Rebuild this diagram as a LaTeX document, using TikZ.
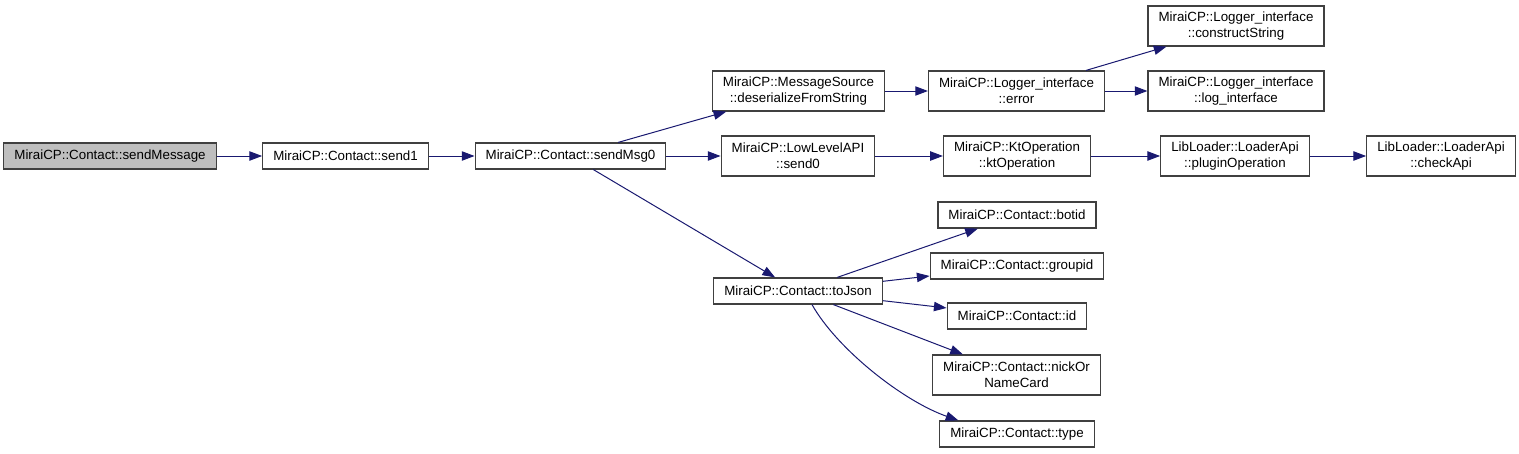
\documentclass[tikz,border=0pt]{standalone}
\usepackage{fontspec}
\setmainfont{Liberation Sans}
\usepackage{xcolor}
\usepackage{tikz}
\usetikzlibrary{arrows.meta}
\definecolor{midnight}{HTML}{191970}
\definecolor{boxGrey}{HTML}{404040}
\definecolor{curGrey}{HTML}{BFBFBF}

\begin{document}
\begin{tikzpicture}[
  x=0.75pt,y=-0.75pt,
  fn/.style={draw=boxGrey,line width=0.9pt,fill=white,align=center,
    font=\fontsize{10pt}{12pt}\selectfont,inner xsep=7.9pt,inner ysep=2pt,
    minimum height=19.5pt},
  fntwo/.style={fn,minimum height=30pt},
  arr/.style={-{Triangle[length=9.5pt,width=7pt]},line width=0.75pt,draw=midnight}
]
\useasboundingbox (0,0) rectangle (1519,453);
\node[fn,fill=curGrey] (sendMessage) at (110,156) {MiraiCP::Contact::sendMessage};
\node[fn] (send1) at (345.5,156) {MiraiCP::Contact::send1};
\node[fn] (sendMsg0) at (570.5,156) {MiraiCP::Contact::sendMsg0};
\node[fntwo] (fromString) at (798.5,91) {MiraiCP::MessageSource\\::deserializeFromString};
\node[fntwo] (send0) at (798,156) {MiraiCP::LowLevelAPI\\::send0};
\node[fn] (toJson) at (798,291) {MiraiCP::Contact::toJson};
\node[fntwo] (error) at (1016.5,91) {MiraiCP::Logger\_interface\\::error};
\node[fntwo] (ktOp) at (1017,156) {MiraiCP::KtOperation\\::ktOperation};
\node[fntwo] (construct) at (1236,26) {MiraiCP::Logger\_interface\\::constructString};
\node[fntwo] (logIface) at (1236,91) {MiraiCP::Logger\_interface\\::log\_interface};
\node[fntwo] (pluginOp) at (1235,156) {LibLoader::LoaderApi\\::pluginOperation};
\node[fntwo] (checkApi) at (1441,156) {LibLoader::LoaderApi\\::checkApi};
\node[fn] (botid) at (1017,215) {MiraiCP::Contact::botid};
\node[fn] (groupid) at (1017,266) {MiraiCP::Contact::groupid};
\node[fn] (id) at (1017,316) {MiraiCP::Contact::id};
\node[fntwo] (nickName) at (1016.5,375) {MiraiCP::Contact::nickOr\\NameCard};
\node[fn] (type) at (1017,434) {MiraiCP::Contact::type};
\draw[arr] (sendMessage)--(send1); \draw[arr] (send1)--(sendMsg0);
\draw[arr] (sendMsg0)--(fromString); \draw[arr] (sendMsg0)--(send0);
\draw[arr] (sendMsg0)--(toJson);
\draw[arr] (fromString)--(error); \draw[arr] (error)--(construct);
\draw[arr] (error)--(logIface);
\draw[arr] (send0)--(ktOp); \draw[arr] (ktOp)--(pluginOp); \draw[arr] (pluginOp)--(checkApi);
\draw[arr] (toJson)--(botid); \draw[arr] (toJson)--(groupid); \draw[arr] (toJson)--(id);
\draw[arr] (toJson)--(nickName);
\draw[arr] ([xshift=10.5pt]toJson.south) .. controls (837,349) and (903,401)
  .. ([xshift=-44pt]type.north);
\end{tikzpicture}
\end{document}
